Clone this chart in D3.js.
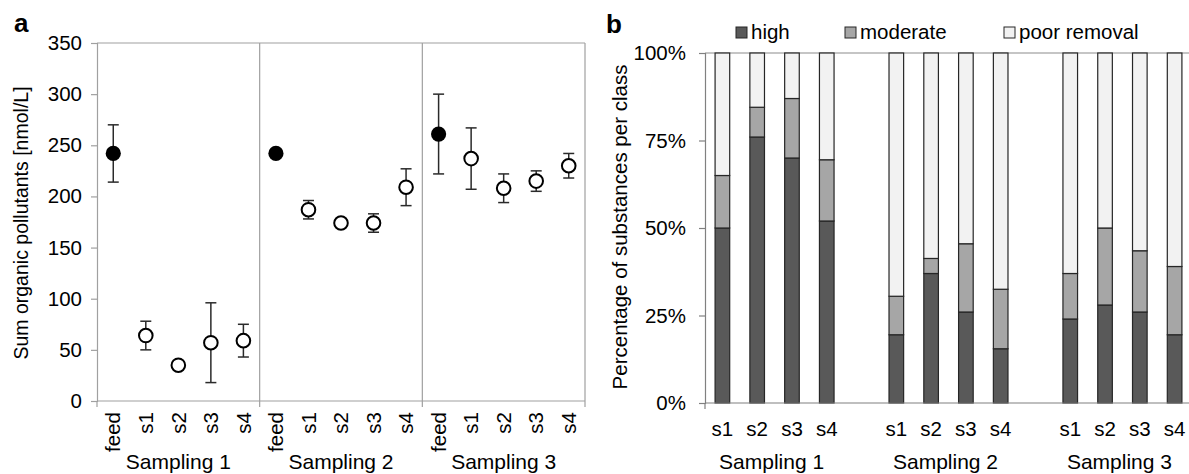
<!DOCTYPE html>
<html>
<head>
<meta charset="utf-8">
<script src="https://cdn.jsdelivr.net/npm/d3@7"></script>
<style>
  body { margin: 0; background: #fff; }
  svg { display: block; font-family: "Liberation Sans", Arial, sans-serif; }
</style>
</head>
<body>
<div id="chart"></div>
<script>
// sampling campaigns and sample points
const groups = ["Sampling 1", "Sampling 2", "Sampling 3"];
const pointLabels = ["feed", "s1", "s2", "s3", "s4"];
const stageLabels = ["s1", "s2", "s3", "s4"];

// panel a: sum organic pollutants [nmol/L], mean and error per group
const sumMean = [
  [242, 64, 35, 57, 59],
  [242, 187, 174, 174, 209],
  [261, 237, 208, 215, 230]
];
const sumErr = [
  [28, 14, 3, 39, 16],
  [2, 9, 3, 9, 18],
  [39, 30, 14, 10, 12]
];
const yTicksA = [0, 50, 100, 150, 200, 250, 300, 350];

// panel b: percentage of substances per removal class
const removalClasses = ["high", "moderate", "poor removal"];
const highPct     = [50, 76, 70, 52,   19.5, 37, 26, 15.5,   24, 28, 26, 19.5];
const moderatePct = [15, 8.5, 17, 17.5, 11, 4.3, 19.5, 17,   13, 22, 17.5, 19.5];
const poorPct     = [35, 15.5, 13, 30.5, 69.5, 58.7, 54.5, 67.5, 63, 50, 56.5, 61];
const yTicksB = [0, 25, 50, 75, 100];

const width = 1189, height = 474;
const axisGrey = "#a0a0a0";
const tickFont = 20.5, groupFont = 21;

const svg = d3.select("#chart").append("svg")
  .attr("width", width).attr("height", height)
  .attr("viewBox", [0, 0, width, height]);

// ---------------- panel a ----------------
const a = {left: 97, right: 585, top: 43, bottom: 401};

const pointsA = [];
groups.forEach((g, gi) => pointLabels.forEach((p, pi) => {
  pointsA.push({key: g + "|" + p, group: g, label: p, mean: sumMean[gi][pi], err: sumErr[gi][pi], feed: pi === 0});
}));

const xA = d3.scaleBand(pointsA.map(d => d.key), [a.left, a.right]);
const yA = d3.scaleLinear([0, 350], [a.bottom, a.top]);

// frame + group dividers
const frameA = svg.append("g").attr("stroke", axisGrey).attr("stroke-width", 1.2);
frameA.append("line").attr("x1", a.left).attr("x2", a.right).attr("y1", a.top).attr("y2", a.top);
frameA.append("line").attr("x1", a.right).attr("x2", a.right).attr("y1", a.top).attr("y2", a.bottom + 6);
groups.slice(1).forEach(g => {
  const xx = xA(g + "|feed");
  frameA.append("line").attr("x1", xx).attr("x2", xx).attr("y1", a.top).attr("y2", a.bottom + 6);
});
frameA.append("line").attr("x1", a.left).attr("x2", a.left).attr("y1", a.bottom).attr("y2", a.bottom + 6);

const yAxisA = svg.append("g")
  .attr("transform", `translate(${a.left},0)`)
  .call(d3.axisLeft(yA).tickValues(yTicksA).tickSize(6).tickPadding(9))
  .attr("font-family", null).attr("font-size", null);
yAxisA.select(".domain").attr("stroke", axisGrey).attr("stroke-width", 1.2);
yAxisA.selectAll(".tick line").attr("stroke", axisGrey).attr("stroke-width", 1.2);
yAxisA.selectAll("text").attr("font-size", tickFont).attr("fill", "#000");

svg.append("line")
  .attr("x1", a.left).attr("x2", a.right).attr("y1", a.bottom).attr("y2", a.bottom)
  .attr("stroke", axisGrey).attr("stroke-width", 1.2);

// rotated point labels
svg.append("g").selectAll("text")
  .data(pointsA).join("text")
  .attr("transform", d => `translate(${xA(d.key) + xA.bandwidth() / 2},${a.bottom + 11}) rotate(-90)`)
  .attr("text-anchor", "end")
  .attr("dy", "0.35em")
  .attr("font-size", tickFont)
  .attr("fill", "#000")
  .text(d => d.label);

svg.append("g").selectAll("text")
  .data(groups).join("text")
  .attr("x", g => (xA(g + "|feed") + xA(g + "|s4") + xA.bandwidth()) / 2)
  .attr("y", 469)
  .attr("text-anchor", "middle")
  .attr("font-size", groupFont)
  .attr("fill", "#000")
  .text(g => g);

// error bars
const errG = svg.append("g").attr("stroke", "#2a2a2a").attr("stroke-width", 1.5);
pointsA.forEach(d => {
  const cx = xA(d.key) + xA.bandwidth() / 2;
  errG.append("line").attr("x1", cx).attr("x2", cx).attr("y1", yA(d.mean + d.err)).attr("y2", yA(d.mean - d.err));
  [d.mean + d.err, d.mean - d.err].forEach(v => {
    errG.append("line").attr("x1", cx - 5.5).attr("x2", cx + 5.5).attr("y1", yA(v)).attr("y2", yA(v));
  });
});

svg.append("g").selectAll("circle")
  .data(pointsA).join("circle")
  .attr("cx", d => xA(d.key) + xA.bandwidth() / 2)
  .attr("cy", d => yA(d.mean))
  .attr("r", d => d.feed ? 7.6 : 6.8)
  .attr("fill", d => d.feed ? "#000" : "#fff")
  .attr("stroke", "#000")
  .attr("stroke-width", d => d.feed ? 0 : 2);

svg.append("text")
  .attr("transform", `translate(28,223) rotate(-90)`)
  .attr("text-anchor", "middle")
  .attr("font-size", 19.5)
  .attr("fill", "#000")
  .text("Sum organic pollutants [nmol/L]");

svg.append("text")
  .attr("x", 14).attr("y", 32)
  .attr("font-size", 26).attr("font-weight", "bold")
  .text("a");

// ---------------- panel b ----------------
const b = {left: 705, right: 1192, top: 53, bottom: 403};

const barsB = [];
const slotKeys = [];
groups.forEach((g, gi) => {
  stageLabels.forEach((s, si) => {
    const i = gi * stageLabels.length + si;
    const key = g + "|" + s;
    slotKeys.push(key);
    barsB.push({key, group: g, label: s, "high": highPct[i], "moderate": moderatePct[i], "poor removal": poorPct[i]});
  });
  if (gi < groups.length - 1) slotKeys.push("gap" + gi);
});

const xB = d3.scaleBand(slotKeys, [b.left, b.right]).paddingInner(0.58).paddingOuter(0.29);
const yB = d3.scaleLinear([0, 100], [b.bottom, b.top]);
const colorB = d3.scaleOrdinal(removalClasses, ["#595959", "#a6a6a6", "#f2f2f2"]);

svg.append("line")
  .attr("x1", b.left).attr("x2", b.right).attr("y1", b.top).attr("y2", b.top)
  .attr("stroke", "#8c8c8c").attr("stroke-width", 1.2);

const stacked = d3.stack().keys(removalClasses)(barsB);
svg.append("g")
  .selectAll("g")
  .data(stacked)
  .join("g")
  .attr("fill", d => colorB(d.key))
  .selectAll("rect")
  .data(d => d)
  .join("rect")
  .attr("x", d => xB(d.data.key))
  .attr("y", d => yB(d[1]))
  .attr("height", d => yB(d[0]) - yB(d[1]))
  .attr("width", xB.bandwidth())
  .attr("stroke", "#262626")
  .attr("stroke-width", 1.2);

const yAxisB = svg.append("g")
  .attr("transform", `translate(${b.left},0)`)
  .call(d3.axisLeft(yB).tickValues(yTicksB).tickFormat(d => d + "%").tickSize(6).tickPadding(13))
  .attr("font-family", null).attr("font-size", null);
yAxisB.select(".domain").attr("stroke", "#808080").attr("stroke-width", 1.2);
yAxisB.selectAll(".tick line").attr("stroke", "#808080").attr("stroke-width", 1.2);
yAxisB.selectAll("text").attr("font-size", tickFont).attr("fill", "#000");

svg.append("line")
  .attr("x1", b.left).attr("x2", b.right).attr("y1", b.bottom).attr("y2", b.bottom)
  .attr("stroke", "#808080").attr("stroke-width", 1.2);
svg.append("line")
  .attr("x1", b.left).attr("x2", b.left).attr("y1", b.bottom).attr("y2", b.bottom + 6)
  .attr("stroke", "#808080").attr("stroke-width", 1.2);

svg.append("g").selectAll("text")
  .data(barsB).join("text")
  .attr("x", d => xB(d.key) + xB.bandwidth() / 2)
  .attr("y", 436)
  .attr("text-anchor", "middle")
  .attr("font-size", tickFont)
  .attr("fill", "#000")
  .text(d => d.label);

svg.append("g").selectAll("text")
  .data(groups).join("text")
  .attr("x", g => (xB(g + "|s1") + xB(g + "|s4") + xB.bandwidth()) / 2 - 3)
  .attr("y", 469)
  .attr("text-anchor", "middle")
  .attr("font-size", groupFont)
  .attr("fill", "#000")
  .text(g => g);

svg.append("text")
  .attr("transform", `translate(627,227) rotate(-90)`)
  .attr("text-anchor", "middle")
  .attr("font-size", 20.5)
  .attr("fill", "#000")
  .text("Percentage of substances per class");

svg.append("text")
  .attr("x", 606).attr("y", 33)
  .attr("font-size", 26).attr("font-weight", "bold")
  .text("b");

// legend
const legendX = [736, 845, 1004];
const legendGroup = svg.selectAll(".legend-group")
  .data(removalClasses)
  .join("g")
  .attr("class", "legend-group");

legendGroup.append("rect")
  .attr("x", (d, i) => legendX[i])
  .attr("y", 27)
  .attr("width", 11).attr("height", 11)
  .attr("fill", d => colorB(d))
  .attr("stroke", "#262626").attr("stroke-width", 1);

legendGroup.append("text")
  .attr("x", (d, i) => legendX[i] + 15)
  .attr("y", 38.5)
  .attr("font-size", tickFont)
  .attr("fill", "#000")
  .text(d => d);
</script>
</body>
</html>
